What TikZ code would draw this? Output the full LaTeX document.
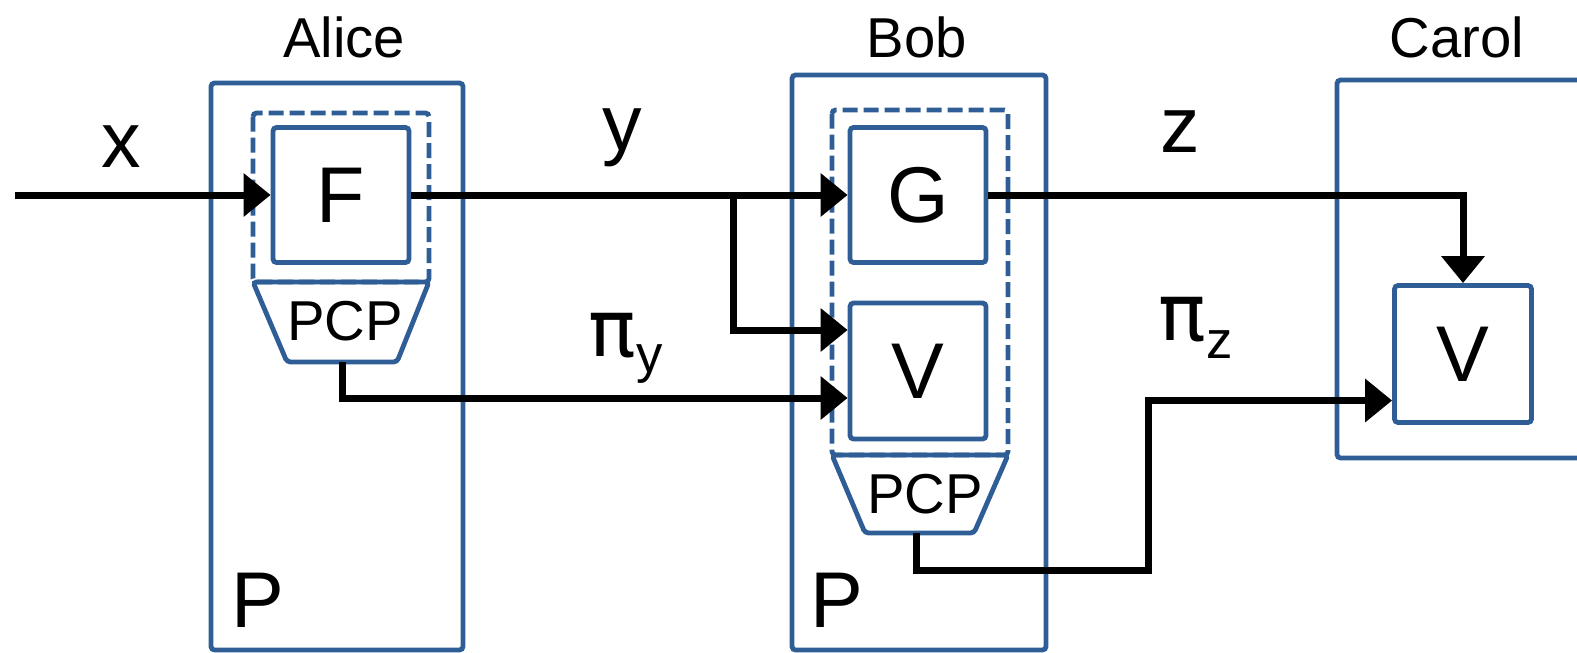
\documentclass[tikz,border=0pt]{standalone}
\usepackage{fontspec}
\setmainfont{Liberation Sans}
\newfontfamily\greekf{DejaVu Sans}
\usetikzlibrary{arrows.meta,positioning}
\definecolor{pblue}{RGB}{47,93,150}
\newcommand{\bigf}{\fontsize{22.5}{27}\selectfont}
\newcommand{\smallf}{\fontsize{16}{19}\selectfont}
\newcommand{\subf}{\fontsize{15}{18}\selectfont}

\begin{document}
\begin{tikzpicture}[x=1.000cm,y=1.000cm,
 frame/.style={draw=pblue,line width=0.048cm,rounded corners=1pt},
 dashframe/.style={frame,dash pattern=on 0.15cm off 0.06cm},
 box/.style={frame,minimum width=1.36cm,minimum height=1.35cm,inner sep=0pt,font=\bigf},
 arr/.style={-{Triangle[length=0.27cm,width=0.42cm]},line width=0.07cm},
 lab/.style={anchor=base,font=\bigf,inner sep=0pt},
 who/.style={anchor=base,font=\smallf,inner sep=0pt}]
\useasboundingbox (0,0) rectangle (15.77,-6.52);
% parties
\draw[frame] (2.11,-0.83) rectangle (4.63,-6.50);
\draw[frame] (7.92,-0.75) rectangle (10.46,-6.50);
\draw[frame] (15.80,-0.80) -| (13.37,-4.58) -- (15.80,-4.58);
\node[who] (alice) at (3.44,-0.57) {Alice};
\node[who] (bob) at (9.17,-0.57) {Bob};
\node[who] (carol) at (14.57,-0.57) {Carol};
\node[lab] (pa) at (2.58,-6.27) {P};
\node[lab] (pb) at (8.37,-6.27) {P};
% Alice
\draw[dashframe] (2.53,-1.13) rectangle (4.29,-2.82);
\node[box] (f) at (3.41,-1.95) {F};
\draw[frame] (2.53,-2.82) -- (4.29,-2.82) -- (3.97,-3.62) -- (2.87,-3.62) -- cycle;
\node[who] (pcpa) at (3.45,-3.40) {PCP};
\coordinate (pcpaout) at (3.42,-3.62);
% Bob
\draw[dashframe] (8.32,-1.10) rectangle (10.08,-4.55);
\node[box] (g) at (9.18,-1.95) {G};
\node[box,minimum height=1.36cm] (vb) at (9.18,-3.71) {V};
\draw[frame] (8.32,-4.55) -- (10.08,-4.55) -- (9.74,-5.33) -- (8.65,-5.33) -- cycle;
\node[who] (pcpb) at (9.25,-5.13) {PCP};
\coordinate (pcpbout) at (9.16,-5.33);
% Carol
\node[box,minimum width=1.37cm,minimum height=1.37cm] (vc) at (14.63,-3.54) {V};
% messages
\node[lab] (xl) at (1.21,-1.67) {x};
\node[lab] (yl) at (6.22,-1.50) {y};
\node[lab] (zl) at (11.80,-1.52) {z};
\node[lab,anchor=base west] (piy) at (5.88,-3.56) {{\greekf π}\raisebox{-0.16cm}{\subf y}};
\node[lab,anchor=base west] (piz) at (11.58,-3.40) {{\greekf π}\raisebox{-0.18cm}{\subf z}};
\coordinate (xin) at (0.15,-1.95);
\coordinate (split) at (7.33,-1.95);
\coordinate (turn) at (11.48,-5.70);
\draw[arr] (xin) -- (f.west);
\draw[arr] (f.east) -- (g.west);
\draw[arr] (split) |- ([yshift=0.41cm]vb.west);
\draw[arr] (pcpaout) |- ([yshift=-0.27cm]vb.west);
\draw[arr] (g.east) -| (vc.north);
\draw[arr] (pcpbout) |- (turn) |- ([yshift=-0.465cm]vc.west);
\end{tikzpicture}
\end{document}
